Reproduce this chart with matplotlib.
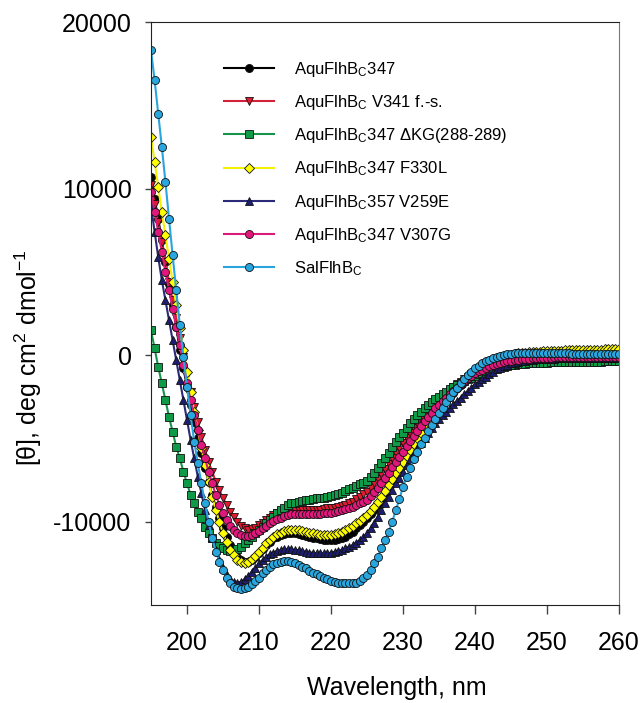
import numpy as np
import matplotlib
matplotlib.use("Agg")
import matplotlib.pyplot as plt

plt.rcParams['font.family'] = ['Liberation Sans', 'DejaVu Sans']
plt.rcParams['mathtext.fontset'] = 'custom'
plt.rcParams['mathtext.rm'] = 'Liberation Sans'
plt.rcParams['mathtext.it'] = 'Liberation Sans:italic'
plt.rcParams['axes.unicode_minus'] = False

# длины волн, шаг 0.5 нм
wavelength = np.arange(195, 260.5, 0.5)

aqu347 = [
    10700, 9400, 8200, 6900, 5600, 4300, 3000, 1700, 300, -800,
    -1900, -3000, -4000, -5000, -5900, -6800, -7600, -8400, -9100, -9800,
    -10400, -10900, -11400, -11800, -12100, -12300, -12400, -12400, -12300, -12100,
    -11900, -11650, -11400, -11200, -11000, -10900, -10800, -10750, -10700, -10700,
    -10700, -10750, -10800, -10850, -10900, -10950, -11000, -11050, -11100, -11100,
    -11100, -11100, -11050, -11000, -10900, -10750, -10600, -10400, -10200, -10000,
    -9800, -9550, -9300, -9000, -8700, -8350, -8000, -7650, -7300, -6950,
    -6600, -6250, -5900, -5550, -5200, -4850, -4500, -4200, -3900, -3600,
    -3300, -3000, -2750, -2500, -2250, -2000, -1800, -1600, -1400, -1200,
    -1000, -850, -700, -580, -470, -380, -300, -230, -170, -120,
    -80, -50, -20, 0, 20, 40, 50, 60, 70, 80,
    90, 100, 100, 110, 110, 120, 120, 130, 130, 130,
    140, 140, 140, 150, 150, 150, 150, 160, 160, 160,
    160]

aqu_v341 = [
    10200, 9100, 8000, 6800, 5600, 4400, 3300, 2200, 1000, -100,
    -1200, -2200, -3100, -4000, -4900, -5700, -6400, -7000, -7600, -8100,
    -8600, -9000, -9400, -9700, -10000, -10250, -10400, -10500, -10450, -10350,
    -10200, -10050, -9900, -9750, -9600, -9500, -9400, -9350, -9300, -9300,
    -9300, -9300, -9300, -9300, -9300, -9300, -9300, -9300, -9250, -9200,
    -9200, -9150, -9100, -9050, -9000, -8900, -8800, -8650, -8500, -8350,
    -8200, -7950, -7700, -7450, -7150, -6850, -6550, -6200, -5900, -5550,
    -5250, -4950, -4650, -4350, -4100, -3850, -3600, -3350, -3100, -2900,
    -2700, -2500, -2300, -2100, -1900, -1750, -1600, -1450, -1300, -1150,
    -1000, -880, -760, -650, -550, -460, -380, -310, -250, -200,
    -150, -110, -80, -50, -20, 0, 20, 40, 60, 70,
    80, 90, 100, 110, 120, 130, 140, 150, 150, 160,
    160, 170, 170, 180, 180, 190, 190, 200, 200, 200,
    200]

aqu_dkg = [
    1500, 400, -700, -1700, -2700, -3700, -4600, -5500, -6200, -7000,
    -7700, -8400, -8900, -9400, -9800, -10300, -10700, -11000, -11300, -11450,
    -11600, -11700, -11750, -11750, -11650, -11500, -11300, -11100, -10900, -10700,
    -10500, -10300, -10100, -9900, -9700, -9500, -9300, -9150, -9000, -8900,
    -8850, -8800, -8750, -8700, -8700, -8650, -8600, -8600, -8550, -8500,
    -8450, -8400, -8350, -8250, -8150, -8050, -7950, -7850, -7750, -7650,
    -7550, -7300, -7050, -6750, -6450, -6150, -5850, -5500, -5200, -4900,
    -4650, -4350, -4100, -3850, -3600, -3400, -3200, -3000, -2800, -2650,
    -2500, -2350, -2200, -2050, -1900, -1780, -1660, -1550, -1450, -1350,
    -1250, -1150, -1060, -980, -910, -850, -790, -740, -700, -660,
    -620, -590, -560, -540, -520, -500, -490, -480, -470, -460,
    -450, -440, -440, -430, -430, -420, -420, -410, -410, -410,
    -400, -400, -400, -390, -390, -390, -380, -380, -380, -380,
    -380]

aqu_f330l = [
    13100, 11600, 10100, 8600, 7200, 5800, 4400, 3000, 1600, 300,
    -1000, -2200, -3400, -4500, -5600, -6600, -7600, -8500, -9300, -10000,
    -10700, -11200, -11700, -12000, -12300, -12400, -12450, -12400, -12250, -12050,
    -11800, -11550, -11300, -11100, -10900, -10750, -10650, -10550, -10500, -10500,
    -10500, -10500, -10550, -10600, -10650, -10700, -10750, -10800, -10800, -10800,
    -10800, -10750, -10700, -10600, -10500, -10400, -10250, -10100, -9950, -9800,
    -9600, -9350, -9100, -8800, -8500, -8150, -7800, -7450, -7100, -6750,
    -6400, -6050, -5700, -5350, -5000, -4650, -4300, -4000, -3700, -3450,
    -3200, -2950, -2700, -2450, -2200, -1950, -1750, -1550, -1350, -1150,
    -1000, -850, -700, -570, -450, -340, -240, -160, -90, -30,
    20, 60, 100, 130, 150, 170, 190, 200, 210, 220,
    230, 240, 250, 260, 270, 280, 290, 290, 300, 300,
    310, 310, 320, 320, 330, 330, 340, 340, 350, 350,
    350]

aqu357_v259e = [
    9000, 7400, 5900, 4500, 3300, 2100, 900, -300, -1500, -2700,
    -3900, -5100, -6200, -7300, -8300, -9300, -10200, -11000, -11700, -12300,
    -12800, -13200, -13450, -13600, -13650, -13600, -13450, -13250, -13000, -12750,
    -12500, -12300, -12100, -11950, -11850, -11750, -11700, -11650, -11650, -11650,
    -11700, -11700, -11750, -11800, -11850, -11850, -11900, -11900, -11900, -11900,
    -11850, -11800, -11750, -11700, -11600, -11500, -11400, -11250, -11100, -10900,
    -10700, -10400, -10050, -9700, -9300, -8900, -8500, -8100, -7700, -7350,
    -7000, -6600, -6250, -5900, -5550, -5250, -4950, -4650, -4350, -4100,
    -3850, -3600, -3400, -3150, -2950, -2750, -2550, -2350, -2150, -1950,
    -1750, -1600, -1450, -1300, -1150, -1000, -850, -750, -650, -570,
    -500, -450, -400, -360, -330, -300, -280, -260, -250, -240,
    -230, -220, -210, -200, -200, -190, -190, -180, -180, -180,
    -170, -170, -170, -160, -160, -160, -150, -150, -150, -150,
    -150]

aqu_v307g = [
    9800, 8600, 7400, 6200, 5000, 3900, 2800, 1700, 600, -600,
    -1700, -2700, -3600, -4500, -5400, -6200, -7000, -7700, -8400, -9000,
    -9500, -9900, -10250, -10500, -10700, -10800, -10850, -10850, -10800, -10700,
    -10550, -10400, -10250, -10100, -9950, -9850, -9750, -9650, -9600, -9550,
    -9550, -9550, -9550, -9550, -9550, -9550, -9550, -9550, -9500, -9450,
    -9450, -9400, -9350, -9300, -9250, -9200, -9100, -9000, -8900, -8800,
    -8700, -8450, -8200, -7950, -7650, -7350, -7050, -6700, -6400, -6100,
    -5800, -5450, -5150, -4850, -4550, -4250, -3950, -3700, -3450, -3200,
    -3000, -2750, -2550, -2350, -2150, -1950, -1750, -1550, -1400, -1250,
    -1100, -980, -870, -770, -680, -600, -530, -470, -420, -380,
    -340, -310, -280, -260, -240, -220, -200, -190, -180, -170,
    -160, -150, -140, -140, -130, -130, -120, -120, -110, -110,
    -110, -100, -100, -100, -100, -90, -90, -90, -90, -90,
    -90]

sal = [
    18300, 16500, 14500, 12500, 10400, 8200, 6000, 3900, 1800, -100,
    -1900, -3600, -5200, -6500, -7700, -8900, -10000, -11000, -11800, -12400,
    -12900, -13400, -13700, -13900, -14000, -14050, -14000, -13900, -13750, -13550,
    -13350, -13100, -12900, -12700, -12550, -12450, -12400, -12350, -12350, -12400,
    -12450, -12600, -12700, -12800, -12950, -13050, -13150, -13250, -13350, -13450,
    -13550, -13600, -13650, -13700, -13700, -13700, -13700, -13650, -13550, -13400,
    -13200, -12900, -12500, -12100, -11600, -11100, -10600, -10000, -9300, -8650,
    -7900, -7300, -6750, -6250, -5800, -5350, -4950, -4550, -4200, -3850,
    -3500, -3150, -2800, -2500, -2200, -1950, -1700, -1450, -1200, -1000,
    -800, -650, -500, -380, -270, -180, -100, -40, 10, 50,
    80, 100, 110, 120, 120, 120, 120, 120, 110, 110,
    110, 110, 100, 100, 100, 100, 100, 90, 90, 90,
    90, 80, 80, 80, 80, 70, 70, 70, 60, 60,
    60]

labels = [
    'AquFlhB$_\\mathrm{C}$347',
    'AquFlhB$_\\mathrm{C}$ V341 f.-s.',
    'AquFlhB$_\\mathrm{C}$347 \u0394KG(288-289)',
    'AquFlhB$_\\mathrm{C}$347 F330L',
    'AquFlhB$_\\mathrm{C}$357 V259E',
    'AquFlhB$_\\mathrm{C}$347 V307G',
    'SalFlhB$_\\mathrm{C}$',
]
series = [aqu347, aqu_v341, aqu_dkg, aqu_f330l, aqu357_v259e, aqu_v307g, sal]
line_colors = ['#000000', '#d4213a', '#16944a', '#f2f200', '#2a2a78', '#d81b78', '#2aa4dc']
face_colors = ['#000000', '#e01a30', '#0f9a48', '#ffff00', '#1e1e70', '#e0187c', '#2aa6de']
markers = ['o', 'v', 's', 'D', '^', 'o', 'o']
msizes = [5.8, 6.3, 5.2, 5.2, 6.3, 5.8, 5.8]

fig = plt.figure(figsize=(6.41, 7.03), dpi=100)
ax = fig.add_axes([0.2356, 0.1394, 0.7301, 0.8293])

# кривые КД-спектров
for y, lab, lc, fc, m, ms in zip(series, labels, line_colors, face_colors, markers, msizes):
    ax.plot(wavelength, y, color=lc, lw=1.5, marker=m, markersize=ms,
            markerfacecolor=fc, markeredgecolor='#111111', markeredgewidth=0.6,
            label=lab)

ax.set_xlim(195, 260)
ax.set_ylim(-15000, 20000)
ax.set_xticks([200, 210, 220, 230, 240, 250, 260])
ax.set_yticks([-10000, 0, 10000, 20000])
ax.tick_params(axis='x', direction='out', length=6.5, width=1, pad=12,
               labelsize=18, top=False, color='#444444')
ax.tick_params(axis='y', direction='out', length=4, width=1, pad=10,
               labelsize=18, right=False, color='#444444')
for side in ['left', 'bottom', 'top']:
    ax.spines[side].set_color('#222222')
ax.spines['right'].set_color('#777777')

ax.set_xlabel('Wavelength, nm', fontsize=18)
ax.xaxis.set_label_coords(0.526, -0.122)
ax.set_ylabel('[\u03b8], deg cm$^2$ dmol$^{\\mathrm{-1}}$', fontsize=18)
ax.yaxis.set_label_coords(-0.228, 0.425)

ax.legend(loc='upper left', bbox_to_anchor=(0.156, 0.935), frameon=False,
          fontsize=12, handlelength=3.0, handletextpad=1.2, labelspacing=0.85,
          borderpad=0, borderaxespad=0, numpoints=1)

fig.savefig('out.png', dpi=100)
